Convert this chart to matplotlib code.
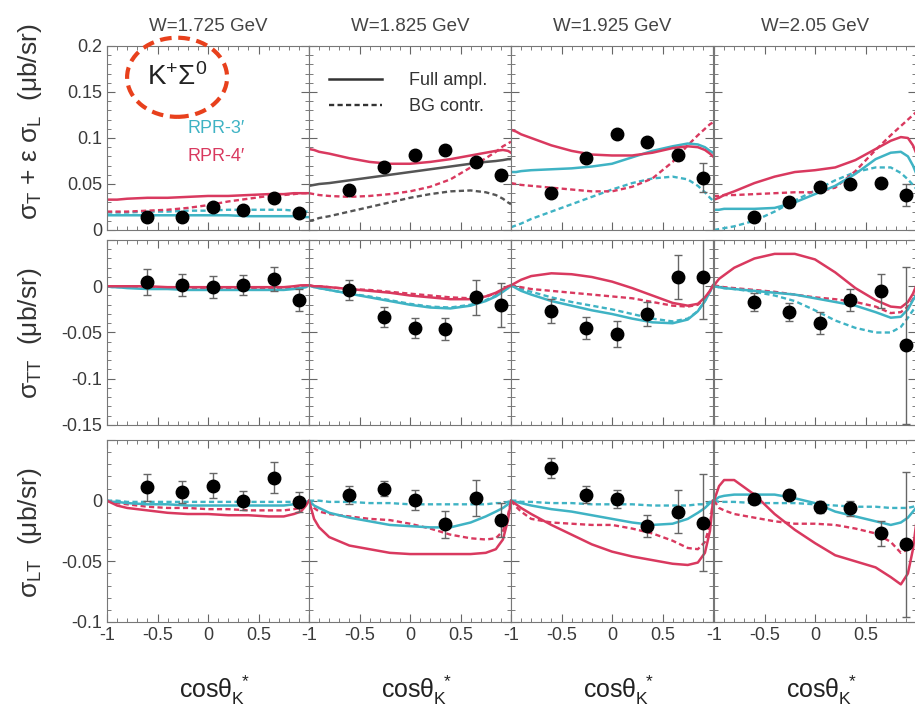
import matplotlib.pyplot as plt
from matplotlib.lines import Line2D
from matplotlib.patches import Ellipse
from matplotlib.ticker import MultipleLocator

plt.rcParams['font.family'] = ['Liberation Sans', 'DejaVu Sans']
plt.rcParams['mathtext.fontset'] = 'custom'
plt.rcParams['mathtext.rm'] = 'Liberation Sans'
plt.rcParams['mathtext.it'] = 'Liberation Sans'
plt.rcParams['mathtext.bf'] = 'Liberation Sans:bold'

W_labels = ['W=1.725 GeV', 'W=1.825 GeV', 'W=1.925 GeV', 'W=2.05 GeV']

# model curves are tabulated on this cos(theta) grid
xc = [-1, -0.95, -0.9, -0.8, -0.6, -0.4, -0.2, 0, 0.2, 0.4, 0.6, 0.75, 0.85, 0.92, 0.97, 1]
# data bins
xd = [-0.6, -0.26, 0.05, 0.35, 0.65, 0.9]

# ---- sigma_T + eps sigma_L ----
u_r3_full = [
    [0.016, 0.016, 0.016, 0.016, 0.016, 0.016, 0.016, 0.016, 0.016, 0.015, 0.015, 0.015, 0.015, 0.014, 0.014, 0.014],
    [0.048, 0.049, 0.050, 0.051, 0.054, 0.057, 0.060, 0.063, 0.066, 0.069, 0.072, 0.074, 0.075, 0.076, 0.077, 0.077],
    [0.063, 0.063, 0.064, 0.065, 0.066, 0.067, 0.069, 0.072, 0.079, 0.086, 0.091, 0.094, 0.093, 0.090, 0.086, 0.084],
    [0.022, 0.022, 0.023, 0.023, 0.023, 0.024, 0.030, 0.039, 0.048, 0.061, 0.077, 0.084, 0.085, 0.080, 0.070, 0.062],
]
u_r3_bg = [
    [0.019, 0.019, 0.019, 0.019, 0.020, 0.020, 0.021, 0.021, 0.022, 0.022, 0.022, 0.022, 0.021, 0.021, 0.020, 0.020],
    [0.010, 0.011, 0.013, 0.015, 0.020, 0.025, 0.030, 0.035, 0.039, 0.042, 0.043, 0.041, 0.038, 0.034, 0.030, 0.028],
    [0.003, 0.005, 0.007, 0.012, 0.020, 0.028, 0.036, 0.044, 0.051, 0.056, 0.058, 0.055, 0.048, 0.041, 0.035, 0.032],
    [0.000, 0.001, 0.002, 0.004, 0.010, 0.020, 0.032, 0.043, 0.054, 0.063, 0.068, 0.068, 0.062, 0.055, 0.049, 0.045],
]
u_r4_full = [
    [0.033, 0.033, 0.033, 0.034, 0.035, 0.035, 0.036, 0.037, 0.037, 0.038, 0.039, 0.039, 0.040, 0.040, 0.040, 0.040],
    [0.088, 0.087, 0.085, 0.083, 0.078, 0.074, 0.072, 0.072, 0.074, 0.077, 0.081, 0.084, 0.086, 0.087, 0.086, 0.084],
    [0.109, 0.107, 0.104, 0.100, 0.092, 0.086, 0.082, 0.081, 0.081, 0.084, 0.089, 0.091, 0.090, 0.087, 0.083, 0.080],
    [0.033, 0.035, 0.038, 0.042, 0.051, 0.058, 0.063, 0.065, 0.068, 0.076, 0.088, 0.097, 0.101, 0.100, 0.092, 0.084],
]
u_r4_bg = [
    [0.020, 0.020, 0.020, 0.020, 0.021, 0.022, 0.024, 0.027, 0.031, 0.034, 0.037, 0.038, 0.039, 0.040, 0.040, 0.041],
    [0.040, 0.039, 0.038, 0.037, 0.036, 0.037, 0.039, 0.042, 0.047, 0.055, 0.068, 0.078, 0.085, 0.091, 0.094, 0.096],
    [0.051, 0.050, 0.049, 0.048, 0.046, 0.044, 0.042, 0.042, 0.047, 0.056, 0.074, 0.092, 0.103, 0.110, 0.115, 0.117],
    [0.037, 0.037, 0.038, 0.038, 0.039, 0.040, 0.041, 0.041, 0.046, 0.064, 0.087, 0.103, 0.113, 0.120, 0.125, 0.128],
]
u_dat = [
    [0.014, 0.014, 0.025, 0.022, 0.035, 0.019],
    [0.044, 0.068, 0.081, 0.087, 0.074, 0.060],
    [0.040, 0.078, 0.104, 0.096, 0.082, 0.057],
    [0.014, 0.030, 0.047, 0.050, 0.051, 0.038],
]
u_err = [
    [0.003, 0.003, 0.003, 0.003, 0.003, 0.003],
    [0.003, 0.003, 0.003, 0.003, 0.004, 0.005],
    [0.003, 0.003, 0.003, 0.003, 0.006, 0.016],
    [0.003, 0.003, 0.003, 0.003, 0.004, 0.012],
]

# ---- sigma_TT ----
tt_r3_full = [
    [0, -0.001, -0.001, -0.002, -0.003, -0.003, -0.004, -0.004, -0.004, -0.004, -0.004, -0.004, -0.003, -0.002, -0.001, 0.001],
    [0.001, -0.001, -0.002, -0.004, -0.008, -0.012, -0.016, -0.020, -0.023, -0.024, -0.021, -0.016, -0.011, -0.006, -0.002, 0.001],
    [0.001, -0.002, -0.005, -0.009, -0.016, -0.021, -0.026, -0.030, -0.035, -0.039, -0.040, -0.036, -0.027, -0.016, -0.006, 0.001],
    [0, -0.001, -0.002, -0.003, -0.005, -0.007, -0.009, -0.013, -0.017, -0.021, -0.028, -0.034, -0.033, -0.025, -0.015, -0.010],
]
tt_r3_bg = [
    [0, 0, -0.001, -0.001, -0.002, -0.002, -0.003, -0.003, -0.003, -0.003, -0.003, -0.003, -0.002, -0.001, 0, 0.001],
    [0.001, -0.001, -0.002, -0.004, -0.008, -0.011, -0.015, -0.019, -0.022, -0.023, -0.020, -0.015, -0.010, -0.005, -0.002, 0.001],
    [0.001, -0.001, -0.003, -0.006, -0.012, -0.017, -0.021, -0.025, -0.030, -0.035, -0.038, -0.035, -0.027, -0.016, -0.006, 0.001],
    [0, -0.001, -0.002, -0.003, -0.006, -0.010, -0.016, -0.026, -0.037, -0.045, -0.050, -0.050, -0.044, -0.034, -0.026, -0.022],
]
tt_r4_full = [
    [0, 0, 0, 0, 0, -0.001, -0.001, -0.001, -0.001, -0.001, -0.001, -0.001, 0, 0.001, 0.001, 0.001],
    [0.001, 0, 0, -0.001, -0.003, -0.005, -0.007, -0.010, -0.012, -0.014, -0.014, -0.011, -0.007, -0.003, 0, 0.001],
    [0.001, 0.004, 0.007, 0.011, 0.014, 0.013, 0.010, 0.005, -0.002, -0.010, -0.018, -0.021, -0.019, -0.012, -0.005, 0.001],
    [0.001, 0.008, 0.012, 0.020, 0.030, 0.035, 0.035, 0.029, 0.015, -0.002, -0.015, -0.022, -0.023, -0.017, -0.008, 0],
]
tt_r4_bg = [
    [0, 0, 0, 0, -0.001, -0.001, -0.001, -0.002, -0.002, -0.002, -0.002, -0.001, -0.001, 0, 0.001, 0.001],
    [0.001, 0, 0, -0.001, -0.003, -0.004, -0.006, -0.008, -0.010, -0.012, -0.013, -0.011, -0.008, -0.004, -0.001, 0.001],
    [0.001, 0, -0.001, -0.003, -0.005, -0.007, -0.009, -0.011, -0.013, -0.017, -0.021, -0.022, -0.020, -0.013, -0.005, 0.001],
    [0.001, 0, -0.001, -0.002, -0.004, -0.006, -0.009, -0.012, -0.014, -0.017, -0.022, -0.029, -0.028, -0.022, -0.014, -0.008],
]
tt_dat = [
    [0.005, 0.001, -0.001, 0.001, 0.008, -0.015],
    [-0.004, -0.033, -0.045, -0.046, -0.012, -0.020],
    [-0.027, -0.045, -0.052, -0.030, 0.010, 0.010],
    [-0.017, -0.028, -0.040, -0.015, -0.005, -0.064],
]
tt_err = [
    [0.014, 0.012, 0.012, 0.011, 0.013, 0.012],
    [0.011, 0.011, 0.011, 0.012, 0.019, 0.024],
    [0.013, 0.012, 0.014, 0.013, 0.024, 0.045],
    [0.010, 0.010, 0.012, 0.012, 0.018, 0.085],
]

# ---- sigma_LT ----
lt_r3_full = [
    [0, -0.001, -0.001, -0.002, -0.003, -0.003, -0.004, -0.004, -0.004, -0.004, -0.004, -0.004, -0.003, -0.003, -0.002, 0],
    [0, -0.004, -0.006, -0.010, -0.014, -0.017, -0.020, -0.021, -0.022, -0.022, -0.018, -0.013, -0.009, -0.006, -0.003, 0],
    [0, -0.001, -0.002, -0.004, -0.007, -0.009, -0.012, -0.015, -0.018, -0.020, -0.019, -0.015, -0.010, -0.006, -0.002, 0],
    [0, 0.003, 0.004, 0.005, 0.005, 0.005, 0.002, -0.002, -0.009, -0.013, -0.017, -0.020, -0.018, -0.014, -0.009, -0.006],
]
lt_r3_bg = [
    [0, 0, 0, -0.001, -0.001, -0.001, -0.001, -0.001, -0.001, -0.001, -0.001, -0.001, -0.001, -0.001, -0.001, 0],
    [0, 0, 0, -0.001, -0.001, -0.002, -0.002, -0.003, -0.003, -0.003, -0.003, -0.003, -0.002, -0.002, -0.001, 0],
    [0, 0, -0.001, -0.001, -0.002, -0.002, -0.003, -0.003, -0.003, -0.004, -0.004, -0.004, -0.003, -0.003, -0.001, 0],
    [0, -0.001, -0.001, -0.001, -0.002, -0.002, -0.002, -0.003, -0.004, -0.005, -0.005, -0.006, -0.006, -0.006, -0.005, -0.004],
]
lt_r4_full = [
    [0, -0.002, -0.004, -0.006, -0.008, -0.010, -0.011, -0.011, -0.012, -0.012, -0.013, -0.013, -0.011, -0.009, -0.004, 0],
    [0, -0.015, -0.022, -0.030, -0.037, -0.040, -0.043, -0.044, -0.044, -0.044, -0.044, -0.043, -0.040, -0.032, -0.016, 0],
    [0, -0.003, -0.006, -0.011, -0.020, -0.028, -0.036, -0.042, -0.046, -0.049, -0.052, -0.053, -0.051, -0.043, -0.025, 0],
    [0, 0.012, 0.017, 0.017, 0.005, -0.011, -0.024, -0.035, -0.045, -0.050, -0.055, -0.063, -0.069, -0.060, -0.040, -0.020],
]
lt_r4_bg = [
    [0, -0.001, -0.002, -0.003, -0.005, -0.006, -0.006, -0.007, -0.007, -0.008, -0.008, -0.008, -0.007, -0.006, -0.003, 0],
    [0, -0.006, -0.009, -0.011, -0.013, -0.015, -0.016, -0.019, -0.023, -0.028, -0.031, -0.032, -0.031, -0.025, -0.012, 0],
    [0, -0.005, -0.009, -0.015, -0.018, -0.019, -0.020, -0.020, -0.023, -0.027, -0.033, -0.039, -0.040, -0.034, -0.020, 0],
    [0, -0.006, -0.008, -0.011, -0.014, -0.017, -0.019, -0.019, -0.020, -0.023, -0.027, -0.034, -0.043, -0.040, -0.034, -0.030],
]
lt_dat = [
    [0.011, 0.007, 0.0125, 0.0, 0.019, -0.001],
    [0.0047, 0.010, 0.0006, -0.0195, 0.002, -0.016],
    [0.027, 0.0047, 0.0014, -0.021, -0.009, -0.018],
    [0.001, 0.005, -0.005, -0.0064, -0.027, -0.036],
]
lt_err = [
    [0.011, 0.009, 0.010, 0.008, 0.0125, 0.008],
    [0.0075, 0.006, 0.008, 0.011, 0.015, 0.014],
    [0.008, 0.007, 0.0075, 0.009, 0.018, 0.040],
    [0.004, 0.004, 0.005, 0.006, 0.010, 0.060],
]

rows = [
    dict(r3=u_r3_full, r3bg=u_r3_bg, r4=u_r4_full, r4bg=u_r4_bg, dat=u_dat, err=u_err,
         ylim=(0, 0.2), yticks=[0, 0.05, 0.1, 0.15, 0.2], ylab=['0', '0.05', '0.1', '0.15', '0.2'],
         label=r'$\sigma_T$ + ε $\sigma_L$  (μb/sr)', px=(46, 230), lab_y=122),
    dict(r3=tt_r3_full, r3bg=tt_r3_bg, r4=tt_r4_full, r4bg=tt_r4_bg, dat=tt_dat, err=tt_err,
         ylim=(-0.15, 0.05), yticks=[-0.15, -0.1, -0.05, 0, 0.05], ylab=['-0.15', '-0.1', '-0.05', '0', ''],
         label=r'$\sigma_{TT}$  (μb/sr)', px=(240, 425), lab_y=333),
    dict(r3=lt_r3_full, r3bg=lt_r3_bg, r4=lt_r4_full, r4bg=lt_r4_bg, dat=lt_dat, err=lt_err,
         ylim=(-0.1, 0.05), yticks=[-0.1, -0.05, 0, 0.05], ylab=['-0.1', '-0.05', '0', ''],
         label=r'$\sigma_{LT}$  (μb/sr)', px=(440, 622), lab_y=533),
]

CYAN = '#3fb3c4'
RED = '#d9395f'
GREY = '#555555'
W, H = 915, 711
col_left = [107, 309, 511, 714]
col_w = 202

fig = plt.figure(figsize=(W / 100, H / 100), dpi=100)
axes = []
for r, row in enumerate(rows):
    top, bot = row['px']
    for c in range(4):
        ax = fig.add_axes([col_left[c] / W, 1 - bot / H, col_w / W, (bot - top) / H])
        axes.append(ax)
        # RPR-3' drawn in grey in the W=1.825 panel of the first row
        c3 = GREY if (r == 0 and c == 1) else CYAN
        ax.plot(xc, row['r3bg'][c], color=c3, lw=1.7, dashes=(2.2, 1.4))
        ax.plot(xc, row['r4bg'][c], color=RED, lw=1.7, dashes=(2.2, 1.4))
        ax.plot(xc, row['r3'][c], color=c3, lw=1.8)
        ax.plot(xc, row['r4'][c], color=RED, lw=1.8)
        ax.errorbar(xd, row['dat'][c], yerr=row['err'][c], fmt='o', color='black', ms=9,
                    ecolor='#666666', elinewidth=1, capsize=3, capthick=1, zorder=5)
        ax.set_xlim(-1, 1)
        ax.set_ylim(*row['ylim'])
        ax.set_xticks([-1, -0.5, 0, 0.5, 1])
        ax.xaxis.set_minor_locator(MultipleLocator(0.1))
        ax.set_yticks(row['yticks'])
        ax.yaxis.set_minor_locator(MultipleLocator(0.01))
        ax.tick_params(which='both', direction='in', top=True, right=True, color='#666666',
                       labelsize=13, labelcolor='#3a3a3a')
        ax.tick_params(which='major', length=6)
        ax.tick_params(which='minor', length=3)
        for s in ax.spines.values():
            s.set_color('#777777')
        if r == 2:
            ax.set_xticklabels(['-1', '-0.5', '0', '0.5', ''])
        else:
            ax.set_xticklabels([])
        if c == 0:
            ax.set_yticklabels(row['ylab'])
        else:
            ax.set_yticklabels([])
        if r == 0:
            ax.set_title(W_labels[c], fontsize=13.5, color='#444444', pad=11)
    fig.text(30 / W, 1 - row['lab_y'] / H, row['label'], rotation=90, ha='center', va='center',
             fontsize=19, color='#333333')

for c in range(4):
    fig.text((col_left[c] + col_w / 2 + 6) / W, 1 - 690 / H, r'cos$\theta_K^{\ *}$',
             ha='center', va='center', fontsize=18, color='#222222')

# reaction label and model names
ax0 = axes[0]
ax0.add_patch(Ellipse((0.347, 0.83), 0.495, 0.43, transform=ax0.transAxes, fill=False,
                      ec='#e8401c', lw=3, ls=(0, (2.8, 1.6)), clip_on=False, zorder=6))
ax0.text(0.347, 0.83, r'$\mathrm{K}^{+}\Sigma^{0}$', transform=ax0.transAxes, ha='center', va='center',
         fontsize=20, color='#222222')
ax0.text(0.40, 0.552, 'RPR-3′', transform=ax0.transAxes, color=CYAN, fontsize=13, va='center')
ax0.text(0.40, 0.40, 'RPR-4′', transform=ax0.transAxes, color=RED, fontsize=13, va='center')

handles = [Line2D([], [], color='#333333', lw=1.8),
           Line2D([], [], color='#333333', lw=1.7, dashes=(2.2, 1.4))]
axes[1].legend(handles, ['Full ampl.', 'BG contr.'], loc='center left', bbox_to_anchor=(0.1, 0.74),
               frameon=False, fontsize=13, handlelength=2.9, handletextpad=1.5, labelspacing=0.5,
               borderpad=0, borderaxespad=0, labelcolor='#333333')

fig.savefig('out.png', dpi=100)
